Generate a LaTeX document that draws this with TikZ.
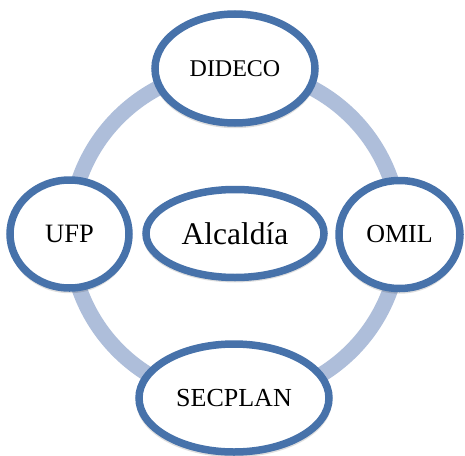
\documentclass[tikz,border=0pt]{standalone}
\usepackage{fontspec}
\setmainfont{Liberation Serif}
\usetikzlibrary{shapes.geometric,shadows}
\definecolor{ringc}{RGB}{174,190,218}
\definecolor{edgec}{RGB}{71,114,170}
\tikzset{
  orgnode/.style={ellipse, draw=edgec, line width=7.5pt, fill=white, inner sep=0pt,
    drop shadow={shadow xshift=0pt, shadow yshift=-3.5pt, shadow scale=1.03, opacity=0.13, fill=black}},
}
\begin{document}
\begin{tikzpicture}[x=1pt,y=-1pt]
\useasboundingbox (0,0) rectangle (465,455);
\coordinate (c) at (235,234);
\draw[ringc, line width=15.5pt] (c) circle[radius=165];
\node[orgnode, minimum width=160pt, minimum height=109pt, font=\fontsize{24}{28}\selectfont] (dideco) at (235,68.5) {DIDECO};
\node[orgnode, minimum width=119pt, minimum height=108pt, font=\fontsize{26.5}{30}\selectfont] (ufp) at (69.5,234) {UFP};
\node[orgnode, minimum width=121pt, minimum height=108pt, font=\fontsize{26}{30}\selectfont] (omil) at (399.5,234.5) {OMIL};
\node[orgnode, minimum width=178pt, minimum height=88pt, font=\fontsize{31.5}{36}\selectfont] (alc) at (235,233.5) {Alcaldía};
\node[orgnode, minimum width=190pt, minimum height=108pt, font=\fontsize{26}{30}\selectfont] (secplan) at (234,398) {SECPLAN};
\end{tikzpicture}
\end{document}
